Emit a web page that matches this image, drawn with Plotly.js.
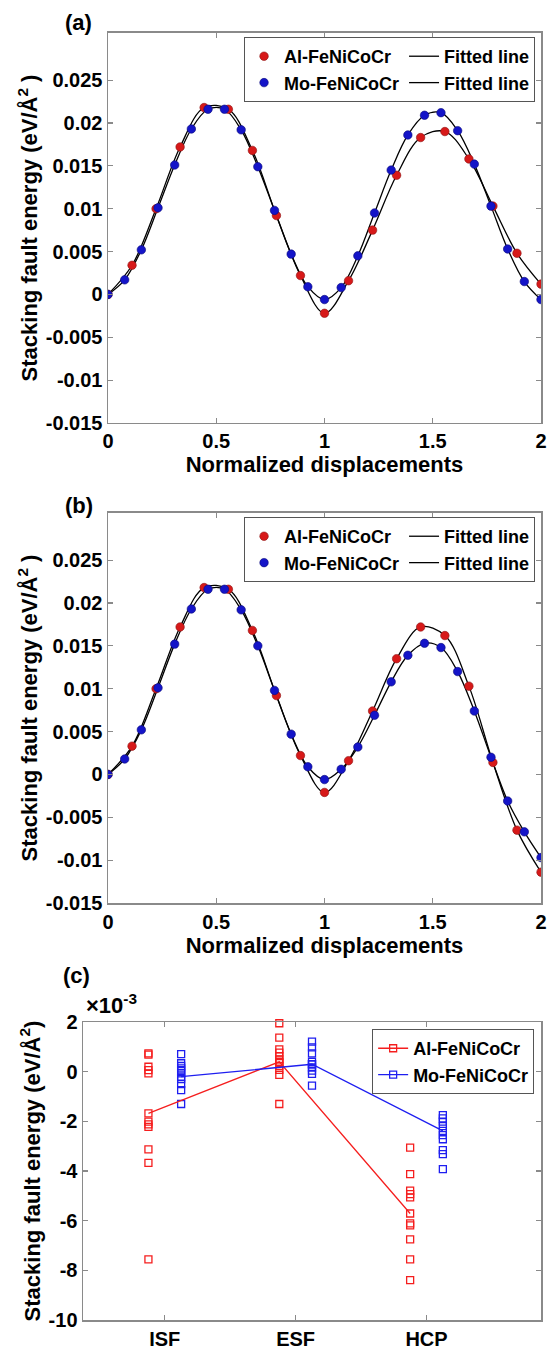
<!DOCTYPE html>
<html><head><meta charset="utf-8">
<script src="https://cdn.plot.ly/plotly-3.0.1.min.js"></script>
<style>html,body{margin:0;padding:0;background:#fff}#chart{width:548px;height:1351px}</style>
</head><body><div id="chart"></div>
<script>
// ---------- Panels (a) and (b): GSFE curves ----------
const xAl = [0,0.111,0.222,0.333,0.444,0.556,0.667,0.778,0.889,1,1.111,1.222,1.333,1.444,1.556,1.667,1.778,1.889,2];
const xMo = [0,0.077,0.154,0.231,0.308,0.385,0.462,0.538,0.615,0.692,0.769,0.846,0.923,1,1.077,1.154,1.231,1.308,1.385,1.462,1.538,1.615,1.692,1.769,1.846,1.923,2];
const yAlA = [0,0.0034,0.0100,0.0172,0.0218,0.0216,0.0168,0.0092,0.0022,-0.0022,0.0016,0.0075,0.0139,0.0183,0.0190,0.0158,0.0103,0.0048,0.0012];
const yMoA = [0,0.0017,0.0052,0.0101,0.0151,0.0193,0.0216,0.0216,0.0192,0.0149,0.0098,0.0047,0.0009,-0.0006,0.0008,0.0045,0.0095,0.0145,0.0186,0.0209,0.0212,0.0191,0.0152,0.0103,0.0053,0.0015,-0.0006];
const yAlB = [0,0.0033,0.0100,0.0172,0.0218,0.0216,0.0168,0.0092,0.0022,-0.0021,0.0016,0.0074,0.0135,0.0172,0.0162,0.0103,0.0014,-0.0065,-0.0114];
const yMoB = [0,0.0018,0.0052,0.0101,0.0152,0.0193,0.0216,0.0216,0.0192,0.0150,0.0098,0.0047,0.0009,-0.0006,0.0006,0.0032,0.0069,0.0108,0.0139,0.0153,0.0148,0.0120,0.0074,0.0020,-0.0031,-0.0067,-0.0097];
const seriesNames = ['Al-FeNiCoCr','Mo-FeNiCoCr'];
const fitName = 'Fitted line';
const xTickVals = [0,0.5,1,1.5,2];
const xTickText = ['0','0.5','1','1.5','2'];
const yTickVals = [-0.015,-0.01,-0.005,0,0.005,0.01,0.015,0.02,0.025];
const yTickText = ['-0.015','-0.01','-0.005','0','0.005','0.01','0.015','0.02','0.025'];

// ---------- Panel (c): SFE per fault type (x10^-3 eV/Å^2) ----------
const faults = ['ISF','ESF','HCP'];
const alISF = [0.74,0.69,0.20,0.06,-0.07,-2.01,-2.12,-2.22,-3.13,-3.67,-7.56];
const alESF = [1.95,1.37,0.90,0.77,0.63,0.50,0.36,0.23,0.07,-0.13,-1.30];
const alHCP = [-3.06,-4.12,-4.79,-4.93,-5.06,-6.11,-6.19,-6.75,-7.56,-8.39];
const moISF = [0.71,0.34,0.23,0.13,0.03,-0.07,-0.30,-0.50,-0.74,-1.30];
const moESF = [1.21,0.98,0.74,0.40,0.30,0.17,0.04,-0.09,-0.56];
const moHCP = [-0.60,-1.75,-1.88,-2.01,-2.19,-2.55,-2.72,-3.16,-3.32,-3.92];
const alMean = [-1.68,0.40,-5.71];
const moMean = [-0.20,0.30,-2.38];
const cTickVals = [-10,-8,-6,-4,-2,0,2];
const cTickText = ['-10','-8','-6','-4','-2','0','2'];

// ---------- styles ----------
const FONT = 'Liberation Sans, Arial, Helvetica, sans-serif';
const RED = 'rgb(215,25,25)', BLUE = 'rgb(20,20,200)';
const RED2 = 'rgb(245,30,30)', BLUE2 = 'rgb(30,30,240)';
const tickFont = {family: FONT, size: 20, color: '#000', weight: 'bold'};
const titleFont = {family: FONT, size: 22, color: '#000', weight: 'bold'};
const legFont = {family: FONT, size: 18, color: '#000', weight: 'bold'};

function axisBase(extra) {
  return Object.assign({
    showline: true, mirror: 'ticks', linecolor: '#8a8a8a', linewidth: 1.5,
    ticks: 'inside', ticklen: 5, tickwidth: 1.2, tickcolor: '#8a8a8a',
    showgrid: false, zeroline: false, tickfont: tickFont, tickmode: 'array'
  }, extra);
}

const traces = [];
function gsfePanel(xa, ya, leg, yAl, yMo) {
  traces.push({x: xAl, y: yAl, xaxis: xa, yaxis: ya, mode: 'lines', name: fitName,
    line: {color: '#000', width: 1.3, shape: 'spline', smoothing: 1},
    legend: leg, legendgroup: 'fit', legendrank: 2});
  traces.push({x: xMo, y: yMo, xaxis: xa, yaxis: ya, mode: 'lines', name: fitName,
    line: {color: '#000', width: 1.3, shape: 'spline', smoothing: 1},
    legend: leg, legendgroup: 'fit', legendrank: 4});
  traces.push({x: xAl, y: yAl, xaxis: xa, yaxis: ya, mode: 'markers', name: seriesNames[0],
    marker: {color: RED, size: 8.5, line: {color: 'rgb(140,20,20)', width: 0.6}},
    legend: leg, legendgroup: 'pts', legendrank: 1});
  traces.push({x: xMo, y: yMo, xaxis: xa, yaxis: ya, mode: 'markers', name: seriesNames[1],
    marker: {color: BLUE, size: 8.5, line: {color: 'rgb(10,10,120)', width: 0.6}},
    legend: leg, legendgroup: 'pts', legendrank: 3});
}
gsfePanel('x', 'y', 'legend', yAlA, yMoA);
gsfePanel('x2', 'y2', 'legend2', yAlB, yMoB);

// panel (c)
const dodge = 0.125;
function cat(arr, i, off) { return arr.map(() => i + 1 + off); }
const alSets = [alISF, alESF, alHCP], moSets = [moISF, moESF, moHCP];
alSets.forEach((s, i) => traces.push({x: cat(s, i, -dodge), y: s, xaxis: 'x3', yaxis: 'y3',
  mode: 'markers', showlegend: false, cliponaxis: false,
  marker: {symbol: 'square-open', size: 7, color: RED2, line: {width: 1.3}}}));
moSets.forEach((s, i) => traces.push({x: cat(s, i, dodge), y: s, xaxis: 'x3', yaxis: 'y3',
  mode: 'markers', showlegend: false, cliponaxis: false,
  marker: {symbol: 'square-open', size: 7, color: BLUE2, line: {width: 1.3}}}));
traces.push({x: faults.map((f, i) => i + 1 - dodge), y: alMean, xaxis: 'x3', yaxis: 'y3',
  mode: 'lines+markers', name: seriesNames[0], legend: 'legend3',
  line: {color: RED2, width: 1.3}, marker: {symbol: 'square-open', size: 7, color: RED2, line: {width: 1.3}}});
traces.push({x: faults.map((f, i) => i + 1 + dodge), y: moMean, xaxis: 'x3', yaxis: 'y3',
  mode: 'lines+markers', name: seriesNames[1], legend: 'legend3',
  line: {color: BLUE2, width: 1.3}, marker: {symbol: 'square-open', size: 7, color: BLUE2, line: {width: 1.3}}});

const yTitleAB = {text: 'Stacking fault energy (eV/Å<sup>2</sup> )', font: titleFont, standoff: 2};
const xTitleAB = {text: 'Normalized displacements', font: titleFont, standoff: 4};
const legendBase = {orientation: 'h', traceorder: 'grouped', xanchor: 'right', yanchor: 'top',
  font: legFont, bgcolor: '#fff', bordercolor: '#555', borderwidth: 1, itemwidth: 30};

const layout = {
  width: 548, height: 1351, paper_bgcolor: '#fff', plot_bgcolor: '#fff',
  margin: {l: 83, r: 7, t: 0, b: 0},
  font: {family: FONT},
  xaxis: axisBase({domain: [0.0546, 1], anchor: 'y', range: [0, 2], tickvals: xTickVals, ticktext: xTickText, title: xTitleAB}),
  yaxis: axisBase({domain: [0.6869, 0.9756], anchor: 'x', range: [-0.015, 0.0305], tickvals: yTickVals, ticktext: yTickText, title: yTitleAB}),
  xaxis2: axisBase({domain: [0.0546, 1], anchor: 'y2', range: [0, 2], tickvals: xTickVals, ticktext: xTickText, title: xTitleAB}),
  yaxis2: axisBase({domain: [0.3316, 0.6203], anchor: 'x2', range: [-0.015, 0.0305], tickvals: yTickVals, ticktext: yTickText, title: yTitleAB}),
  xaxis3: axisBase({domain: [0, 1], anchor: 'y3', range: [0.375, 3.875], tickvals: [1, 2, 3], ticktext: faults}),
  yaxis3: axisBase({domain: [0.0229, 0.2435], anchor: 'x3', range: [-10, 2], tickvals: cTickVals, ticktext: cTickText,
    title: {text: 'Stacking fault energy (eV/Å<sup>2</sup>)', font: titleFont, standoff: 2}}),
  legend: Object.assign({}, legendBase, {x: 0.987, y: 0.9726}),
  legend2: Object.assign({}, legendBase, {x: 0.987, y: 0.6173}),
  legend3: Object.assign({}, legendBase, {orientation: 'v', traceorder: 'normal', x: 0.985, y: 0.2383}),
  annotations: [
    {text: '(a)', xref: 'paper', yref: 'paper', x: -0.009, y: 0.983, showarrow: false, font: titleFont, xanchor: 'center', yanchor: 'middle'},
    {text: '(b)', xref: 'paper', yref: 'paper', x: -0.009, y: 0.6262, showarrow: false, font: titleFont, xanchor: 'center', yanchor: 'middle'},
    {text: '(c)', xref: 'paper', yref: 'paper', x: -0.015, y: 0.2783, showarrow: false, font: titleFont, xanchor: 'center', yanchor: 'middle'},
    {text: '×10<sup>-3</sup>', xref: 'paper', yref: 'paper', x: 0.002, y: 0.2448, showarrow: false,
      font: {family: FONT, size: 22, color: '#000', weight: 'bold'}, xanchor: 'left', yanchor: 'bottom'}
  ],
  showlegend: true
};

Plotly.newPlot('chart', traces, layout, {staticPlot: true, displayModeBar: false});
</script></body></html>
